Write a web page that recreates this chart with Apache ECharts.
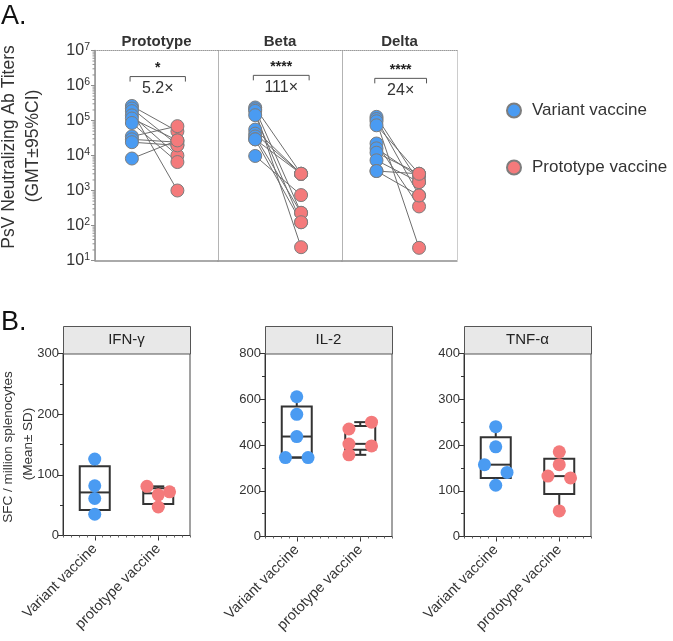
<!DOCTYPE html>
<html><head><meta charset="utf-8">
<script src="https://cdn.jsdelivr.net/npm/echarts@6/dist/echarts.min.js"></script>
<style>html,body{margin:0;padding:0;background:#fff}#c{width:673px;height:641px}</style>
</head><body><div id="c"></div>
<script>
// ---------- Panel A data (paired, log titers) ----------
const groupNames = ['Prototype', 'Beta', 'Delta'];
const prototypeVariantVax = [2.6e5, 2.2e5, 1.85e5, 1.4e5, 1.14e5, 8.5e4, 3.5e4, 2.9e4, 2.4e4, 8.2e3];
const prototypeProtoVax   = [4.9e4, 2.0e4, 1.0e3, 1.0e4, 2.7e4, 6.5e3, 6.9e4, 2.4e4, 1.95e4, 2.7e4];
const betaVariantVax      = [2.35e5, 2.1e5, 1.88e5, 1.42e5, 5.5e4, 4.2e4, 3.5e4, 2.9e4, 2.9e4, 9.7e3];
const betaProtoVax        = [3.0e3, 230, 24, 124, 3.0e3, 3.0e3, 230, 124, 3.0e3, 740];
const deltaVariantVax     = [1.27e5, 1.1e5, 9.5e4, 7.3e4, 2.2e4, 1.6e4, 1.2e4, 7.3e3, 3.6e3, 3.6e3];
const deltaProtoVax       = [1.74e3, 720, 23, 3.0e3, 350, 2.4e3, 3.0e3, 1.74e3, 3.0e3, 720];
const sigStars   = ['*', '****', '****'];
const foldLabels = ['5.2\u00d7', '111\u00d7', '24\u00d7'];
const bracketLevels = [1.8e6, 1.95e6, 1.6e6];
const seriesNames = ['Variant vaccine', 'Prototype vaccine'];
const logDecades = [10, 100, 1000, 1e4, 1e5, 1e6];
const logMinorSteps = [2, 3, 4, 5, 6, 7, 8, 9];

// ---------- Panel B data ----------
const bCategories = ['Variant vaccine', 'prototype vaccine'];
const bPanelTitles = ['IFN-\u03b3', 'IL-2', 'TNF-\u03b1'];
const bAxisMax = [300, 800, 400];
const bAxisInterval = [100, 200, 100];
const ifnVariant = [126, 82, 61, 35];
const ifnVariantJitter = [0, 0, 0, 0];
const ifnProto = [81, 72, 67, 47];
const ifnProtoJitter = [-1, 1, 0, 0];
const ifnBoxes = [[35, 42, 71, 114, 126], [47, 52, 69.5, 78, 81]];
const il2Variant = [611, 534, 437, 345, 345];
const il2VariantJitter = [0, 0, 0, -1, 1];
const il2Proto = [500, 470, 404, 396, 357];
const il2ProtoJitter = [1, -1, -1, 1, -1];
const il2Boxes = [[345, 345, 437, 568, 611], [357, 379, 405, 483, 500]];
const tnfVariant = [240, 196, 157, 140, 112];
const tnfVariantJitter = [0, 0, -1, 1, 0];
const tnfProto = [185, 157, 132, 128, 56];
const tnfProtoJitter = [0, 0, -1, 1, 0];
const tnfBoxes = [[112, 128, 157, 217, 240], [56, 93, 132, 170, 185]];

// ---------- styling / layout ----------
const BLUE = '#4a9bf2', RED = '#f47a7b';
const FONT = "'Liberation Sans', Arial, Helvetica, sans-serif";
const gridsA = [
  {left: 95, top: 50.5, width: 123, height: 210},
  {left: 218, top: 50.5, width: 124, height: 210},
  {left: 342, top: 50.5, width: 115, height: 210}
];
const gridsB = [
  {left: 63, top: 353.5, width: 127, height: 182},
  {left: 265, top: 353.5, width: 127, height: 183},
  {left: 464, top: 353.5, width: 127, height: 183}
];
const BX = 0.3, RX = 0.67, JIT = 0.178;

const pairsA = [
  [prototypeVariantVax, prototypeProtoVax],
  [betaVariantVax, betaProtoVax],
  [deltaVariantVax, deltaProtoVax]
];
const panelsB = [
  {v: ifnVariant, vj: ifnVariantJitter, p: ifnProto, pj: ifnProtoJitter, box: ifnBoxes},
  {v: il2Variant, vj: il2VariantJitter, p: il2Proto, pj: il2ProtoJitter, box: il2Boxes},
  {v: tnfVariant, vj: tnfVariantJitter, p: tnfProto, pj: tnfProtoJitter, box: tnfBoxes}
];

const grid = [], xAxis = [], yAxis = [], series = [], graphic = [];

// Panel A
gridsA.forEach((g, i) => {
  grid.push(Object.assign({show: false}, g));
  xAxis.push({
    gridIndex: i, type: 'value', min: 0, max: 1, interval: 1, position: 'bottom',
    axisLine: {show: true, onZero: false, lineStyle: {color: '#8f8f8f', width: 1.5}},
    axisTick: {show: false}, axisLabel: {show: false},
    splitLine: {show: true, lineStyle: {type: 'dotted', color: '#9a9a9a', width: 1}}
  });
  xAxis.push({
    gridIndex: i, type: 'value', min: 0, max: 1, position: 'top',
    axisLine: {show: true, onZero: false, lineStyle: {type: 'dotted', color: '#9a9a9a', width: 1}},
    axisTick: {show: false}, axisLabel: {show: false}, splitLine: {show: false},
    name: groupNames[i], nameLocation: 'middle', nameGap: 1,
    nameTextStyle: {fontWeight: 'bold', fontSize: 15, color: '#333', fontFamily: FONT}
  });
  const showY = i === 0;
  yAxis.push({
    gridIndex: i, type: 'log', logBase: 10, min: 10, max: 1e7, splitNumber: 6,
    axisLine: {show: showY, lineStyle: {color: '#8f8f8f', width: 1.5}},
    axisTick: {show: showY, length: 4, lineStyle: {color: '#8f8f8f'}},
    splitLine: {show: false},
    axisLabel: {
      show: showY, margin: 5, color: '#333', fontFamily: FONT,
      formatter: v => '{a|10}{b|' + Math.round(Math.log10(v)) + '}',
      rich: {
        a: {fontSize: 16, color: '#333', fontFamily: FONT, lineHeight: 18},
        b: {fontSize: 10.5, color: '#333', fontFamily: FONT, verticalAlign: 'top', lineHeight: 11}
      }
    }
  });
  const [vArr, pArr] = pairsA[i];
  vArr.forEach((v, k) => {
    series.push({
      type: 'line', xAxisIndex: 2 * i, yAxisIndex: i, silent: true, symbol: 'none', z: 2,
      data: [[BX, v], [RX, pArr[k]]], lineStyle: {color: '#6e6e6e', width: 1}
    });
  });
  series.push({
    name: seriesNames[0], type: 'scatter', xAxisIndex: 2 * i, yAxisIndex: i, z: 3, symbolSize: 13,
    data: vArr.map(v => [BX, v]), itemStyle: {color: BLUE, borderColor: '#7d7d7d', borderWidth: 1, opacity: 1}
  });
  series.push({
    name: seriesNames[1], type: 'scatter', xAxisIndex: 2 * i, yAxisIndex: i, z: 4, symbolSize: 13,
    data: pArr.map(v => [RX, v]), itemStyle: {color: RED, borderColor: '#7d7d7d', borderWidth: 1, opacity: 1}
  });
  series.push({
    type: 'custom', xAxisIndex: 2 * i, yAxisIndex: i, silent: true, z: 5,
    data: [[0.5, bracketLevels[i]]],
    renderItem: (params, api) => {
      const y = api.value(1);
      const p1 = api.coord([0.285, y]), p2 = api.coord([0.735, y]);
      const cx = (p1[0] + p2[0]) / 2;
      return {type: 'group', children: [
        {type: 'polyline', shape: {points: [[p1[0], p1[1] + 5], p1, p2, [p2[0], p2[1] + 5]]},
         style: {stroke: '#555', lineWidth: 1, fill: null}},
        {type: 'text', x: cx, y: p1[1] - 8,
         style: {text: sigStars[i], fill: '#222', font: 'bold 14px ' + FONT, align: 'center', verticalAlign: 'middle'}},
        {type: 'text', x: cx, y: p1[1] + 12,
         style: {text: foldLabels[i], fill: '#333', font: '16px ' + FONT, align: 'center', verticalAlign: 'middle'}}
      ]};
    }
  });
});

// minor ticks of the log axis (2..9 in each decade)
const minorTickValues = [];
logDecades.forEach(d => logMinorSteps.forEach(m => minorTickValues.push([0, d * m])));
series.push({
  type: 'custom', xAxisIndex: 0, yAxisIndex: 0, silent: true, z: 6, clip: false,
  data: minorTickValues,
  renderItem: (params, api) => {
    const p = api.coord([0, api.value(1)]);
    return {type: 'line', shape: {x1: p[0] - 2.5, y1: p[1], x2: p[0], y2: p[1]},
      style: {stroke: '#8f8f8f', lineWidth: 1}};
  }
});

// Panel B
gridsB.forEach((g, j) => {
  const gi = 3 + j;
  grid.push(Object.assign({show: true, borderColor: '#444', borderWidth: 1, backgroundColor: 'transparent'}, g));
  const catIdx = xAxis.length;
  xAxis.push({
    gridIndex: gi, type: 'category', data: bCategories, boundaryGap: true,
    axisLine: {show: true, onZero: false, lineStyle: {color: '#333', width: 1}},
    axisTick: {show: true, alignWithLabel: true, length: 5, lineStyle: {color: '#333'}},
    axisLabel: {rotate: 45, interval: 0, margin: 11, fontSize: 14.5, color: '#333', fontFamily: FONT},
    splitLine: {show: false}
  });
  const jitIdx = xAxis.length;
  xAxis.push({
    gridIndex: gi, type: 'value', min: 0, max: 2, interval: 0.125, position: 'bottom',
    axisLine: {show: false, onZero: false}, axisLabel: {show: false}, splitLine: {show: false},
    axisTick: {show: true, length: 2, lineStyle: {color: '#666'}}
  });
  const yIdx = yAxis.length;
  yAxis.push({
    gridIndex: gi, type: 'value', min: 0, max: bAxisMax[j], interval: bAxisInterval[j],
    axisLine: {show: true, lineStyle: {color: '#333', width: 1}},
    axisTick: {show: true, length: 5, lineStyle: {color: '#333'}},
    minorTick: {show: true, splitNumber: 2, length: 3, lineStyle: {color: '#333'}},
    splitLine: {show: false},
    axisLabel: {margin: 4, fontSize: 13, color: '#333', fontFamily: FONT}
  });
  const pb = panelsB[j];
  series.push({
    type: 'custom', xAxisIndex: catIdx, yAxisIndex: yIdx, silent: true, z: 2,
    data: pb.box.map((b, c) => [c].concat(b)),
    renderItem: (params, api) => {
      const c = api.value(0);
      const pMin = api.coord([c, api.value(1)]), pQ1 = api.coord([c, api.value(2)]),
            pMed = api.coord([c, api.value(3)]), pQ3 = api.coord([c, api.value(4)]),
            pMax = api.coord([c, api.value(5)]);
      const cx = pMed[0], hw = 15, cw = 6;
      const st = {stroke: '#333', lineWidth: 2, fill: null};
      return {type: 'group', children: [
        {type: 'rect', shape: {x: cx - hw, y: pQ3[1], width: 2 * hw, height: pQ1[1] - pQ3[1]}, style: {stroke: '#333', lineWidth: 2, fill: 'none'}},
        {type: 'line', shape: {x1: cx - hw, y1: pMed[1], x2: cx + hw, y2: pMed[1]}, style: st},
        {type: 'line', shape: {x1: cx, y1: pQ3[1], x2: cx, y2: pMax[1]}, style: st},
        {type: 'line', shape: {x1: cx - cw, y1: pMax[1], x2: cx + cw, y2: pMax[1]}, style: st},
        {type: 'line', shape: {x1: cx, y1: pQ1[1], x2: cx, y2: pMin[1]}, style: st},
        {type: 'line', shape: {x1: cx - cw, y1: pMin[1], x2: cx + cw, y2: pMin[1]}, style: st}
      ]};
    }
  });
  series.push({
    type: 'scatter', xAxisIndex: jitIdx, yAxisIndex: yIdx, z: 4, symbolSize: 13, silent: true,
    data: pb.v.map((v, k) => [0.5 + pb.vj[k] * JIT, v]), itemStyle: {color: BLUE, opacity: 1}
  });
  series.push({
    type: 'scatter', xAxisIndex: jitIdx, yAxisIndex: yIdx, z: 4, symbolSize: 13, silent: true,
    data: pb.p.map((v, k) => [1.5 + pb.pj[k] * JIT, v]), itemStyle: {color: RED, opacity: 1}
  });
  // header strip
  graphic.push({type: 'rect', left: g.left, top: 326, z: 10,
    shape: {width: g.width, height: g.top - 326}, style: {fill: '#e8e8e8', stroke: '#555', lineWidth: 1}});
  graphic.push({type: 'text', x: g.left + g.width / 2, y: (326 + g.top) / 2, z: 11,
    style: {text: bPanelTitles[j], font: '15px ' + FONT, fill: '#222', align: 'center', verticalAlign: 'middle'}});
});

// labels
graphic.push({type: 'text', left: 1, top: 3, style: {text: 'A.', font: '27px ' + FONT, fill: '#111'}});
graphic.push({type: 'text', left: 1, top: 309, style: {text: 'B.', font: '27px ' + FONT, fill: '#111'}});
graphic.push({type: 'text', x: 9, y: 147, rotation: Math.PI / 2,
  style: {text: 'PsV Neutralizing Ab Titers', font: '17.5px ' + FONT, fill: '#333', align: 'center', verticalAlign: 'middle'}});
graphic.push({type: 'text', x: 33, y: 146, rotation: Math.PI / 2,
  style: {text: '(GMT\u00b195%CI)', font: '17.5px ' + FONT, fill: '#333', align: 'center', verticalAlign: 'middle'}});
graphic.push({type: 'text', x: 8, y: 447, rotation: Math.PI / 2,
  style: {text: 'SFC / million splenocytes', font: '13.5px ' + FONT, fill: '#333', align: 'center', verticalAlign: 'middle'}});
graphic.push({type: 'text', x: 28, y: 444, rotation: Math.PI / 2,
  style: {text: '(Mean\u00b1 SD)', font: '13.5px ' + FONT, fill: '#333', align: 'center', verticalAlign: 'middle'}});

const chart = echarts.init(document.getElementById('c'), null, {renderer: 'canvas'});
chart.setOption({
  animation: false,
  backgroundColor: '#fff',
  textStyle: {fontFamily: FONT},
  legend: {
    data: seriesNames, orient: 'vertical', left: 501, top: 97, itemGap: 40,
    itemWidth: 14, itemHeight: 14, icon: 'circle', selectedMode: false,
    textStyle: {fontSize: 17, color: '#333', fontFamily: FONT, padding: [0, 0, 0, 6]}
  },
  grid, xAxis, yAxis, series, graphic
});
</script></body></html>
